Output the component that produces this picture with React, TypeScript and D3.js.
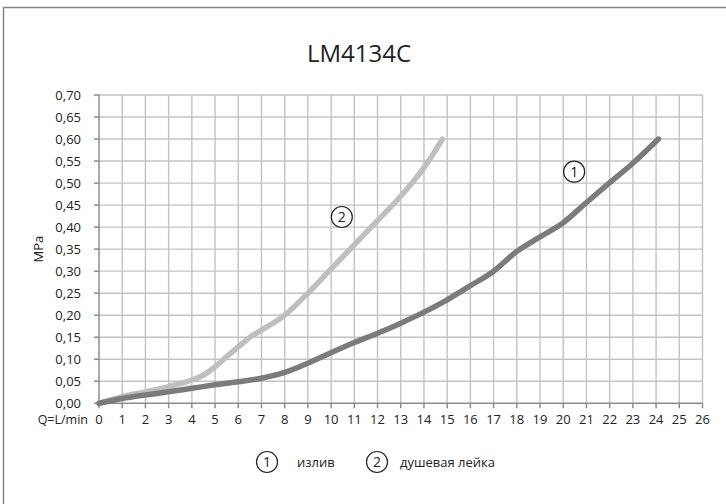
import * as d3 from 'd3'

const W = 726
const H = 504
const M = { left: 99, right: 23.5, top: 95, bottom: 100.7 }

const TITLE = 'LM4134C'
const X_LABEL = 'Q=L/min'
const Y_LABEL = 'MPa'
const X_TICKS = d3.range(0, 27)
const Y_TICKS = d3.range(0, 15).map((i) => i * 0.05)

// 1 - излив
const SPOUT_Q = [0, 1, 2, 3, 4, 5, 6, 7, 8, 9, 10, 11, 12, 13, 14, 15, 16, 17, 18, 19, 20, 21, 22, 23, 24.1]
const SPOUT_P = [0, 0.011, 0.019, 0.026, 0.034, 0.042, 0.049, 0.057, 0.07, 0.091, 0.115, 0.138, 0.159, 0.182, 0.207, 0.235, 0.267, 0.3, 0.345, 0.378, 0.41, 0.456, 0.501, 0.545, 0.6]

// 2 - душевая лейка
const SHOWER_Q = [0, 1, 2, 3, 4, 4.5, 5, 5.5, 6, 6.5, 7, 8, 9, 10, 11, 12, 13, 14, 14.8]
const SHOWER_P = [0, 0.015, 0.026, 0.038, 0.053, 0.064, 0.083, 0.106, 0.128, 0.15, 0.166, 0.2, 0.25, 0.305, 0.36, 0.415, 0.47, 0.535, 0.6]

const LEGEND = ['излив', 'душевая лейка']

const FONT = '"Open Sans", "DejaVu Sans", sans-serif'
const DARK = '#7b7b7d'
const LIGHT = '#bebfc1'

const x = d3.scaleLinear([0, 26], [M.left, W - M.right])
const y = d3.scaleLinear([0, 0.7], [H - M.bottom, M.top])

const line = d3
  .line<[number, number]>()
  .x((d) => x(d[0]))
  .y((d) => y(d[1]))
  .curve(d3.curveMonotoneX)

const zip = (qs: number[], ps: number[]) => qs.map((q, i) => [q, ps[i]] as [number, number])

function Marker({ cx, cy, n }: { cx: number; cy: number; n: number }) {
  return (
    <g>
      <circle cx={cx} cy={cy} r={10.5} fill="white" stroke="#222" strokeWidth={1.2} />
      <text x={cx} y={cy + 5} textAnchor="middle" fontSize={14} fill="#222">
        {n}
      </text>
    </g>
  )
}

export default function App() {
  const y0 = y(0)
  const fmt = (v: number) => v.toFixed(2).replace('.', ',')
  return (
    <svg
      width={W}
      height={H}
      style={{ position: 'absolute', left: 0, top: 0, fontFamily: FONT }}
    >
      <rect x={0} y={0} width={W} height={H} fill="white" />
      <rect x={3.5} y={7.5} width={W + 20} height={H + 20} fill="none" stroke="#868686" strokeWidth={1.5} />
      <text x={359} y={62} textAnchor="middle" fontSize={24} fill="#222">
        {TITLE}
      </text>

      {/* grid */}
      {X_TICKS.slice(1).map((t) => (
        <line key={'gx' + t} x1={x(t)} x2={x(t)} y1={y(0.7)} y2={y0} stroke="#c3c3c3" strokeWidth={1.4} />
      ))}
      {Y_TICKS.slice(1).map((t) => (
        <line key={'gy' + t} x1={x(0)} x2={x(26)} y1={y(t)} y2={y(t)} stroke="#c3c3c3" strokeWidth={1.4} />
      ))}

      {/* axes */}
      <line x1={x(0)} x2={x(0)} y1={y(0.7)} y2={y0} stroke="#8c8c8c" strokeWidth={1.5} />
      <line x1={x(0)} x2={x(26)} y1={y0} y2={y0} stroke="#8c8c8c" strokeWidth={1.5} />
      {Y_TICKS.map((t) => (
        <g key={'ty' + t}>
          <line x1={x(0) - 5} x2={x(0)} y1={y(t)} y2={y(t)} stroke="#8c8c8c" strokeWidth={1.5} />
          <text x={81} y={y(t) + 4.5} textAnchor="end" fontSize={13} fill="#222">
            {fmt(t)}
          </text>
        </g>
      ))}
      {X_TICKS.map((t) => (
        <g key={'tx' + t}>
          <line x1={x(t)} x2={x(t)} y1={y0} y2={y0 + 5} stroke="#8c8c8c" strokeWidth={1.5} />
          <text x={x(t)} y={y0 + 21} textAnchor="middle" fontSize={13} fill="#222">
            {t}
          </text>
        </g>
      ))}
      <text x={88} y={y0 + 21} textAnchor="end" fontSize={12.5} fill="#222">
        {X_LABEL}
      </text>
      <text transform={`translate(43,${(y(0) + y(0.7)) / 2}) rotate(-90)`} textAnchor="middle" fontSize={13} fill="#222">
        {Y_LABEL}
      </text>

      {/* series */}
      <path d={line(zip(SHOWER_Q, SHOWER_P)) ?? ''} fill="none" stroke={LIGHT} strokeWidth={5.5} strokeLinecap="round" />
      <path d={line(zip(SPOUT_Q, SPOUT_P)) ?? ''} fill="none" stroke={DARK} strokeWidth={5.5} strokeLinecap="round" />

      <Marker cx={x(20.47)} cy={y(0.526)} n={1} />
      <Marker cx={x(10.46)} cy={y(0.423)} n={2} />

      {/* legend */}
      <Marker cx={267} cy={462} n={1} />
      <text x={297} y={466.5} fontSize={13} fill="#222">
        {LEGEND[0]}
      </text>
      <Marker cx={377} cy={462} n={2} />
      <text x={400} y={466.5} fontSize={13} fill="#222">
        {LEGEND[1]}
      </text>
    </svg>
  )
}
